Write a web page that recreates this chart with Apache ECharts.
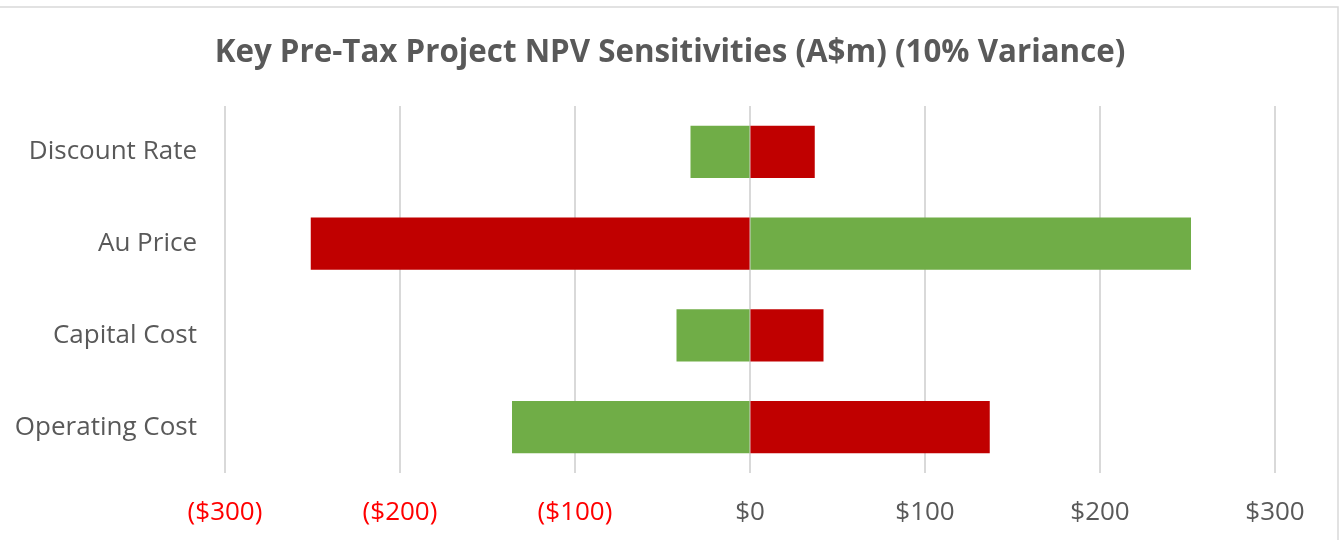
<!DOCTYPE html>
<html>
<head>
<meta charset="utf-8">
<script src="https://cdn.jsdelivr.net/npm/echarts@6/dist/echarts.min.js"></script>
<style>
html,body{margin:0;padding:0;background:#fff;}
#chart{width:1340px;height:540px;}
</style>
</head>
<body>
<div id="chart"></div>
<script>
const categories = ['Discount Rate', 'Au Price', 'Capital Cost', 'Operating Cost'];
const downsideValues = [-34, -251, -42, -136];
const upsideValues = [37, 252, 42, 137];
const tickValues = [-300, -200, -100, 0, 100, 200, 300];

const GREEN = '#70AD47';
const RED = '#C00000';
const downsideColors = [GREEN, RED, GREEN, GREEN];
const upsideColors = [RED, GREEN, RED, RED];

const chart = echarts.init(document.getElementById('chart'));
const fontFamily = '"Open Sans", "Noto Sans", sans-serif';

function fmt(v) {
  return v < 0 ? '($' + Math.abs(v) + ')' : '$' + v;
}

chart.setOption({
  animation: false,
  textStyle: { fontFamily: fontFamily },
  title: {
    text: 'Key Pre-Tax Project NPV Sensitivities (A$m) (10% Variance)',
    left: 'center',
    top: 33,
    textStyle: { fontFamily: fontFamily, fontSize: 31.3, fontWeight: 'bold', color: '#595959' }
  },
  graphic: [{
    type: 'rect',
    shape: { x: -10, y: 7, width: 1348, height: 560 },
    style: { fill: 'none', stroke: '#D9D9D9', lineWidth: 1.5 },
    silent: true,
    z: -1
  }],
  grid: { left: 225, right: 65, top: 106, bottom: 67, containLabel: false },
  xAxis: {
    type: 'value',
    min: tickValues[0],
    max: tickValues[tickValues.length - 1],
    interval: 100,
    axisLine: { show: false },
    axisTick: { show: false },
    splitLine: { lineStyle: { color: '#D9D9D9', width: 2 } },
    axisLabel: {
      formatter: fmt,
      fontSize: 26,
      margin: 27,
      fontFamily: fontFamily,
      color: function (v) { return Number(v) < 0 ? '#FF0000' : '#595959'; }
    }
  },
  yAxis: {
    type: 'category',
    data: categories,
    inverse: true,
    axisLine: { show: false },
    axisTick: { show: false },
    splitLine: { show: false },
    axisLabel: { fontSize: 26, margin: 28, color: '#595959', fontFamily: fontFamily }
  },
  series: [
    {
      name: 'Downside',
      type: 'bar',
      stack: 'npv',
      barWidth: '57%',
      data: downsideValues.map((v, i) => ({ value: v, itemStyle: { color: downsideColors[i] } }))
    },
    {
      name: 'Upside',
      type: 'bar',
      stack: 'npv',
      barWidth: '57%',
      data: upsideValues.map((v, i) => ({ value: v, itemStyle: { color: upsideColors[i] } })),
      markLine: {
        silent: true,
        symbol: 'none',
        label: { show: false },
        lineStyle: { color: 'rgba(217,217,217,0.6)', width: 1.5, type: 'solid' },
        data: [{ xAxis: 0 }]
      }
    }
  ]
});
</script>
</body>
</html>
